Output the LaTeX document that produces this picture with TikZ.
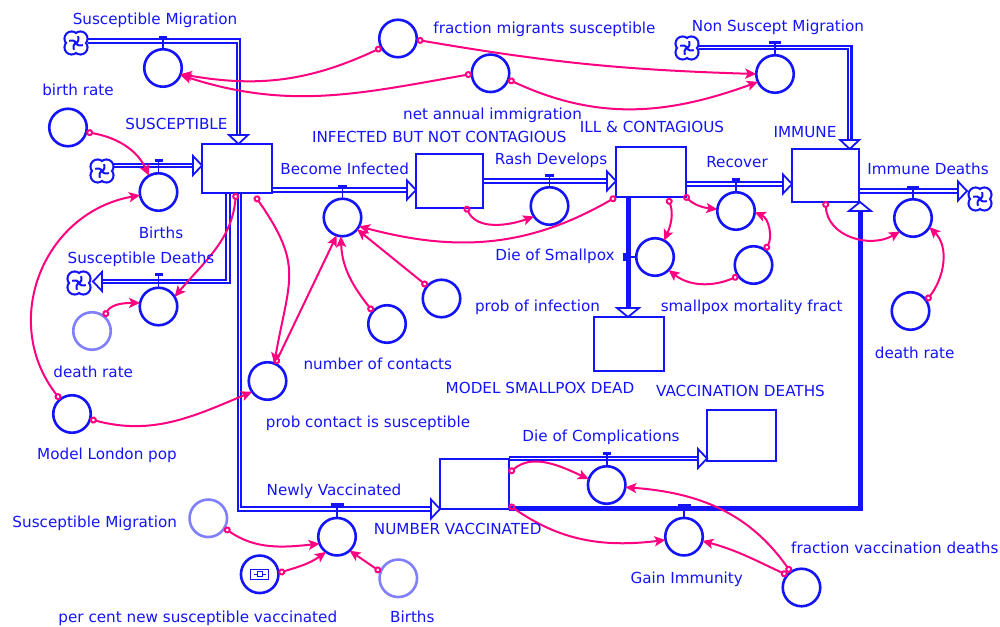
\documentclass[tikz,border=0pt]{standalone}
\usepackage{fontspec}
\setmainfont{DejaVu Sans}
\usetikzlibrary{arrows.meta,calc,backgrounds}
\definecolor{vblue}{RGB}{20,20,250}
\definecolor{vpink}{RGB}{255,0,128}
\definecolor{vlight}{RGB}{128,128,255}
\tikzset{
  lbl/.style={text=vblue, font=\fontsize{15.2}{18}\selectfont, text height=11pt, text depth=0pt, inner sep=0pt},
  stock/.style={draw=vblue, line width=2.4pt, fill=white, rectangle, inner sep=0pt, outer sep=0pt},
  aux/.style={draw=vblue, line width=2.6pt, circle, minimum size=37.5pt, inner sep=0pt, outer sep=0pt},
  shadow/.style={aux, draw=vlight},
  pipe/.style={draw=vblue, line width=2.2pt, double=white, double distance=1.5pt},
  solidpipe/.style={draw=vblue, line width=5pt},
  conn/.style={draw=vpink, line width=2pt, {Circle[open,length=7pt,width=7pt]}-{Stealth[length=11pt,width=10pt,inset=2.5pt]}},
  tbar/.style={draw=vblue, line width=3.2pt},
  stem/.style={draw=vblue, line width=1.8pt},
  phd/.pic={\draw[draw=vblue, fill=white, line width=1.8pt, line join=miter] (0,0) -- (-9,9.5) -- (-9,-9.5) -- cycle;},
  phdw/.pic={\draw[draw=vblue, fill=white, line width=1.8pt, line join=miter] (0,0) -- (-9,11) -- (-9,-11) -- cycle;},
  cld/.pic={
    \foreach \a in {45,135,225,315} {\fill[vblue] (\a:6.2) circle[radius=8.2];}
    \foreach \a in {45,135,225,315} {\fill[white] (\a:6.2) circle[radius=6];}
    \fill[white] (0,0) circle[radius=6.5];
    \foreach \a in {45,135,225,315} {\draw[vblue,line width=2pt] (\a:6.2) ++({\a+180}:7) arc[start angle={\a+180}, end angle={\a+245}, radius=7];}
  }
}
\newcommand\valveT[3]{\draw[stem] (#1.north) -- ++(0,#2); \draw[tbar] ($(#1.north)+(-#3/2,#2)$) -- ++(#3,0);}
\begin{document}
\begin{tikzpicture}[x=1pt,y=1pt]
\useasboundingbox (0,0) rectangle (1000,626);
% stocks
\node[stock, minimum width=70pt, minimum height=49pt] (S) at (237,457.5) {};
\node[stock, minimum width=67pt, minimum height=54pt] (I) at (449.5,445) {};
\node[stock, minimum width=70pt, minimum height=50pt] (IC) at (651,454) {};
\node[stock, minimum width=67pt, minimum height=53pt] (IM) at (825.5,450.5) {};
\node[stock, minimum width=70pt, minimum height=54pt] (MSD) at (629,282) {};
\node[stock, minimum width=69pt, minimum height=51pt] (VD) at (741.5,190.5) {};
\node[stock, minimum width=69pt, minimum height=50pt] (NV) at (474.5,142) {};
% clouds
\coordinate (c1) at (76,583);
\coordinate (c2) at (102,455);
\coordinate (c3) at (79,343);
\coordinate (c4) at (687,578);
\coordinate (c5) at (980,427);
% pipes
\begin{scope}[on background layer]
\fill[white] (0,0) rectangle (1000,626);
\draw[pipe] ($(c1)+(12,2)$) -| ($(S.north)+(1.5,9)$);
\draw[pipe] ($(c2)+(12,5.5)$) -- ($(S.west)+(-9,3)$);
\draw[pipe] ($(S.south)+(-9,0)$) |- ($(c3)+(23,1.5)$);
\draw[pipe] ($(S.south east)+(0,3)$) -- ($(I.west |- S.south east)+(-9,3)$);
\draw[pipe] (I.east) -- ($(IC.west |- I.east)+(-9,0)$);
\draw[solidpipe] ($(IC.south)+(-23,0)$) -- ($(MSD.north)+(-1,9)$);
\draw[pipe] ($(IC.east)+(0,-12)$) -- ($(IM.west |- IC.east)+(-9,-12)$);
\draw[pipe] ($(c4)+(12,0.5)$) -| ($(IM.north)+(24.2,9)$);
\draw[pipe] ($(IM.east)+(0,-15.5)$) -- ($(c5)+(-22,8)$);
\draw[pipe] ($(S.south)+(2.5,0)$) |- ($(NV.west)+(-9,-25)$);
\draw[pipe] ($(NV.north east)+(0,0.5)$) -- ($(VD.west |- NV.north east)+(-9,0.5)$);
\draw[solidpipe] (NV.south east) -| ($(IM.south)+(34.5,-9)$);
\end{scope}
\pic at (c1) {cld};
\pic at (c2) {cld};
\pic at (c3) {cld};
\pic at (c4) {cld};
\pic at (c5) {cld};
% pipe heads
\pic[rotate=-90] at ($(S.north)+(1.5,0)$) {phd};
\pic at ($(S.west)+(0,3)$) {phd};
\pic[rotate=180] at ($(c3)+(14,1.5)$) {phd};
\pic at ($(I.west |- S.south east)+(0,3)$) {phd};
\pic at (IC.west |- I.east) {phd};
\pic[rotate=-90] at ($(MSD.north)+(-1,0)$) {phdw};
\pic at ($(IM.west |- IC.east)+(0,-12)$) {phd};
\pic[rotate=-90] at ($(IM.north)+(24.2,0)$) {phd};
\pic at ($(c5)+(-13,8)$) {phd};
\pic at ($(NV.west)+(0,-25)$) {phd};
\pic at ($(VD.west |- NV.north east)+(0,0.5)$) {phd};
\pic[rotate=90] at ($(IM.south)+(34.5,0)$) {phdw};
% valves
\node[aux] (sm) at (163,558) {};
\node[aux] (bi) at (158.5,434) {};
\node[aux] (sd) at (158.5,319.5) {};
\node[aux] (bin) at (342.5,408.5) {};
\node[aux] (rd) at (549.5,420) {};
\node[aux] (ds) at (655,369) {};
\node[aux] (rec) at (736,415) {};
\node[aux] (nsm) at (775,552) {};
\node[aux] (imd) at (913,408) {};
\node[aux] (nv) at (337,89.3) {};
\node[aux] (doc) at (606.7,141) {};
\node[aux] (gi) at (684,89.3) {};
\valveT{sm}{11.5}{8}
\valveT{bi}{13}{8}
\valveT{sd}{13.5}{8}
\valveT{bin}{12}{9}
\valveT{rd}{11.5}{9}
\valveT{rec}{13}{8}
\valveT{nsm}{12.5}{12}
\valveT{imd}{12}{12}
\valveT{nv}{13}{13}
\valveT{doc}{13}{8}
\valveT{gi}{12}{13}
\draw[stem] (ds.west) -- ++(-12,0);
\draw[tbar] ($(ds.west)+(-12,-4)$) -- ++(0,8);
% auxiliaries
\node[aux] (br) at (68,498.5) {};
\node[shadow] (dr1) at (92,295) {};
\node[aux] (mlp) at (72,212) {};
\node[aux] (pcs) at (267.5,245) {};
\node[aux] (noc) at (387,302) {};
\node[aux] (poi) at (441.5,327.5) {};
\node[aux] (smf) at (753.5,361) {};
\node[aux] (fms) at (398,587.5) {};
\node[aux] (nai) at (490.5,552.7) {};
\node[aux] (dr2) at (910.5,315) {};
\node[shadow] (smb) at (208.3,107.7) {};
\node[aux] (pc) at (259.7,51.7) {};
\node[shadow] (bb) at (398.3,47.7) {};
\node[aux] (fvd) at (801.5,38.5) {};
\draw[vblue, line width=1.4pt] ($(pc)+(-9,-5)$) rectangle ($(pc)+(9,5)$);
\draw[vblue, line width=1.3pt] ($(pc)+(-6,0)$) -- ($(pc)+(6,0)$);
\draw[vblue, fill=white, line width=1.3pt] ($(pc)+(-2.5,-2.5)$) rectangle ($(pc)+(2.5,2.5)$);
% connectors
\draw[conn] (br.-14) to[out=-10,in=115] (bi.120);
\draw[conn] (mlp.129) to[out=128,in=190,looseness=1.15] (bi.190);
\draw[conn] (mlp.-16) to[out=-15,in=203] (pcs.215);
\draw[conn] (dr1.50) to[out=60,in=180] (sd.169);
\draw[conn] ($(S.south)+(-1,0)$) to[out=-95,in=50] (sd.31);
\draw[conn] ($(S.south)+(18,-3)$) to[out=-55,in=80,looseness=1.3] (pcs.69);
\draw[conn] (pcs.66) -- (bin.252);
\draw[conn] (noc.139) to[out=128,in=-88] (bin.265);
\draw[conn] (poi.139) -- (bin.-39);
\draw[conn] (IC.south west) to[out=-150,in=-15] (bin.-28);
\draw[conn] ($(I.south)+(16,2)$) to[out=-65,in=200] (rd.214);
\draw[conn] ($(IC.south)+(17,-1)$) to[out=-70,in=66] (ds.61);
\draw[conn] ($(IC.south east)+(-2,2)$) to[out=-45,in=173] (rec.175);
\draw[conn] (smf.52) to[out=60,in=-23] (rec.-4);
\draw[conn] (smf.216) to[out=-157,in=-38] (ds.-44);
\draw[conn] ($(IM.south)+(0,1)$) to[out=-87,in=210,looseness=1.12] (imd.226);
\draw[conn] (dr2.33) to[out=52,in=-45] (imd.-29);
\draw[conn] (fms.209) to[out=205,in=-10] (sm.-19);
\draw[conn] (nai.182) to[out=190,in=-18] (sm.-22);
\draw[conn] (fms.-4) to[bend right=4] (nsm.180);
\draw[conn] (nai.-19) to[out=-25,in=200] (nsm.205);
\draw[conn] (smb.-31) to[out=-35,in=186] (nv.202);
\draw[conn] (pc.4) to[out=17,in=216] (nv.234);
\draw[conn] (bb.160) -- (nv.-48);
\draw[conn] ($(NV.east)+(0,11)$) to[out=40,in=155] (doc.162);
\draw[conn] ($(NV.east)+(0,-21)$) to[out=-35,in=187] (gi.190);
\draw[conn] (fvd.125) to[out=125,in=-4] (doc.-7);
\draw[conn] (fvd.139) to[out=155,in=-15] (gi.-13);
% labels
\node[lbl] (l1) at (155,607) {Susceptible Migration};
\node[lbl] (l2) at (78,536) {birth rate};
\node[lbl] (l3) at (176.5,502) {SUSCEPTIBLE};
\node[lbl] (l4) at (161,393) {Births};
\node[lbl] (l5) at (141,368) {Susceptible Deaths};
\node[lbl] (l6) at (93.3,254.3) {death rate};
\node[lbl] (l7) at (107,171.7) {Model London pop};
\node[lbl] (l8) at (368,203.5) {prob contact is susceptible};
\node[lbl] (l9) at (377.8,262) {number of contacts};
\node[lbl] (l10) at (537.5,320) {prob of infection};
\node[lbl] (l11) at (344.7,456.7) {Become Infected};
\node[lbl] (l12) at (439.3,488.7) {INFECTED BUT NOT CONTAGIOUS};
\node[lbl] (l13) at (551,467) {Rash Develops};
\node[lbl] (l14) at (652,499) {ILL \& CONTAGIOUS};
\node[lbl] (l15) at (555,371) {Die of Smallpox};
\node[lbl] (l16) at (737,464.3) {Recover};
\node[lbl] (l17) at (805,494.3) {IMMUNE};
\node[lbl] (l18) at (928,456.7) {Immune Deaths};
\node[lbl] (l19) at (778,600) {Non Suscept Migration};
\node[lbl] (l20) at (544.5,598.3) {fraction migrants susceptible};
\node[lbl] (l21) at (492.5,512) {net annual immigration};
\node[lbl] (l22) at (751.7,320) {smallpox mortality fract};
\node[lbl] (l23) at (914.7,272.7) {death rate};
\node[lbl] (l24) at (540,237.7) {MODEL SMALLPOX DEAD};
\node[lbl] (l25) at (740.5,235.3) {VACCINATION DEATHS};
\node[lbl] (l26) at (601,190.3) {Die of Complications};
\node[lbl] (l27) at (334,136) {Newly Vaccinated};
\node[lbl] (l28) at (457.7,97) {NUMBER VACCINATED};
\node[lbl] (l29) at (94.7,104.3) {Susceptible Migration};
\node[lbl] (l30) at (197.8,8.8) {per cent new susceptible vaccinated};
\node[lbl] (l31) at (412.3,8.8) {Births};
\node[lbl] (l32) at (686.7,48) {Gain Immunity};
\node[lbl] (l33) at (894.8,78.3) {fraction vaccination deaths};
\end{tikzpicture}
\end{document}
